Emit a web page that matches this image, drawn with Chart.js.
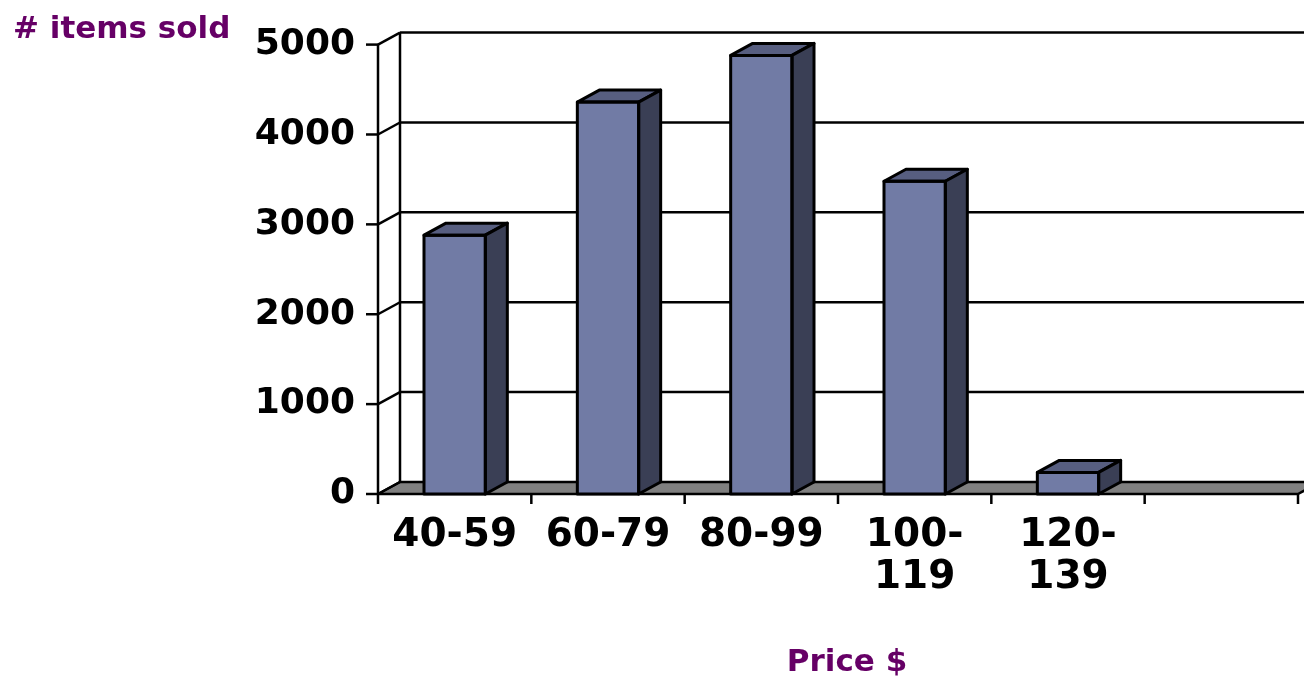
<!DOCTYPE html>
<html>
<head>
<meta charset="utf-8">
<title>Items sold by price</title>
<script src="https://cdn.jsdelivr.net/npm/chart.js@4.4.1/dist/chart.umd.min.js"></script>
<style>
    html, body { margin: 0; padding: 0; background: #fff; }
    canvas { display: block; }
</style>
</head>
<body>
<canvas id="salesChart" width="1304" height="680"></canvas>
<script>
// price bands and items sold in each (last band is empty)
const priceBands = ['40-59', '60-79', '80-99', ['100-', '119'], ['120-', '139'], ''];
const itemsSold = [2880, 4360, 4880, 3480, 240, null];
const yTicks = [0, 1000, 2000, 3000, 4000, 5000];

const fontFamily = "'DejaVu Sans', Verdana, sans-serif";
const titleColor = '#660066';

// 3D offsets for the back wall and for the bar depth
const wallDepth = { dx: 22, dy: 12 };
const barDepth = { dx: 22, dy: 12 };
const edgeWidth = 3;

const colors = {
    front: '#717ba5',
    side: '#3a3f55',
    top: '#575e80',
    floor: '#808080'
};

function poly(ctx, pts, fill) {
    ctx.beginPath();
    ctx.moveTo(pts[0][0], pts[0][1]);
    for (let i = 1; i < pts.length; i++) {
        ctx.lineTo(pts[i][0], pts[i][1]);
    }
    ctx.closePath();
    if (fill) {
        ctx.fillStyle = fill;
        ctx.fill();
    }
    ctx.stroke();
}

function line(ctx, x1, y1, x2, y2) {
    ctx.beginPath();
    ctx.moveTo(x1, y1);
    ctx.lineTo(x2, y2);
    ctx.stroke();
}

const boxPlugin = {
    id: 'box3d',
    beforeDatasetsDraw(chart) {
        const { ctx, chartArea, scales } = chart;
        const x = scales.x, y = scales.y;
        const { left, right, top } = chartArea;
        const y0 = y.getPixelForValue(0);
        const dx = wallDepth.dx, dy = wallDepth.dy;

        ctx.save();
        ctx.strokeStyle = '#000';
        ctx.lineWidth = edgeWidth - 0.5;
        ctx.lineJoin = 'round';

        // floor
        poly(ctx, [[left, y0], [right, y0], [right + dx, y0 - dy], [left + dx, y0 - dy]], colors.floor);

        // back wall gridlines, the diagonals joining them to the front axis, tick marks
        yTicks.forEach(v => {
            const py = y.getPixelForValue(v);
            if (v > 0) {
                line(ctx, left + dx, py - dy, chart.width, py - dy);
            }
            line(ctx, left, py, left + dx, py - dy);
            line(ctx, left - 12, py, left, py);
        });

        // left edge of the back wall and the front value axis
        line(ctx, left + dx, top - dy, left + dx, y0 - dy);
        line(ctx, left, top, left, y0);

        // tick marks between price bands
        const half = (x.getPixelForValue(1) - x.getPixelForValue(0)) / 2;
        for (let i = 0; i <= priceBands.length; i++) {
            const px = x.getPixelForValue(0) - half + i * half * 2;
            line(ctx, px, y0, px, y0 + 10);
        }
        ctx.restore();
    },
    afterDatasetsDraw(chart) {
        const { ctx } = chart;
        const meta = chart.getDatasetMeta(0);
        const dx = barDepth.dx, dy = barDepth.dy;

        ctx.save();
        ctx.strokeStyle = '#000';
        ctx.lineWidth = edgeWidth;
        ctx.lineJoin = 'round';
        meta.data.forEach((bar, i) => {
            if (itemsSold[i] == null) return;
            const p = bar.getProps(['x', 'y', 'base', 'width'], true);
            const l = p.x - p.width / 2, r = p.x + p.width / 2;
            // top and right side of the column
            poly(ctx, [[l, p.y], [l + dx, p.y - dy], [r + dx, p.y - dy], [r, p.y]], colors.top);
            poly(ctx, [[r, p.y], [r + dx, p.y - dy], [r + dx, p.base - dy], [r, p.base]], colors.side);
            // outline of the front face
            ctx.strokeRect(l, p.y, p.width, p.base - p.y);
        });

        // axis titles
        ctx.fillStyle = titleColor;
        ctx.font = 'bold 31px ' + fontFamily;
        ctx.textBaseline = 'alphabetic';
        ctx.textAlign = 'left';
        ctx.fillText('# items sold', 13, 38);
        ctx.textAlign = 'center';
        ctx.fillText('Price $', 847, 671);
        ctx.restore();
    }
};

const ctx = document.getElementById('salesChart').getContext('2d');
new Chart(ctx, {
    type: 'bar',
    data: {
        labels: priceBands,
        datasets: [{
            data: itemsSold,
            backgroundColor: colors.front,
            borderWidth: 0,
            categoryPercentage: 1,
            barPercentage: 0.4
        }]
    },
    options: {
        responsive: false,
        animation: false,
        devicePixelRatio: 1,
        layout: {
            padding: { left: 0, right: 6, top: 40, bottom: 0 }
        },
        plugins: {
            legend: { display: false },
            tooltip: { enabled: false }
        },
        scales: {
            x: {
                grid: { display: false, drawTicks: false },
                border: { display: false },
                ticks: {
                    color: '#000',
                    padding: 20,
                    maxRotation: 0,
                    autoSkip: false,
                    font: { family: fontFamily, size: 39, weight: 'bold', lineHeight: 1.1 }
                },
                afterFit(scale) {
                    scale.height = 186;
                }
            },
            y: {
                min: 0,
                max: 5000,
                grid: { display: false, drawTicks: false },
                border: { display: false },
                ticks: {
                    stepSize: 1000,
                    color: '#000',
                    padding: 23,
                    font: { family: fontFamily, size: 36, weight: 'bold' },
                    callback: value => String(value)
                },
                afterFit(scale) {
                    scale.width = 378;
                }
            }
        }
    },
    plugins: [boxPlugin]
});
</script>
</body>
</html>
